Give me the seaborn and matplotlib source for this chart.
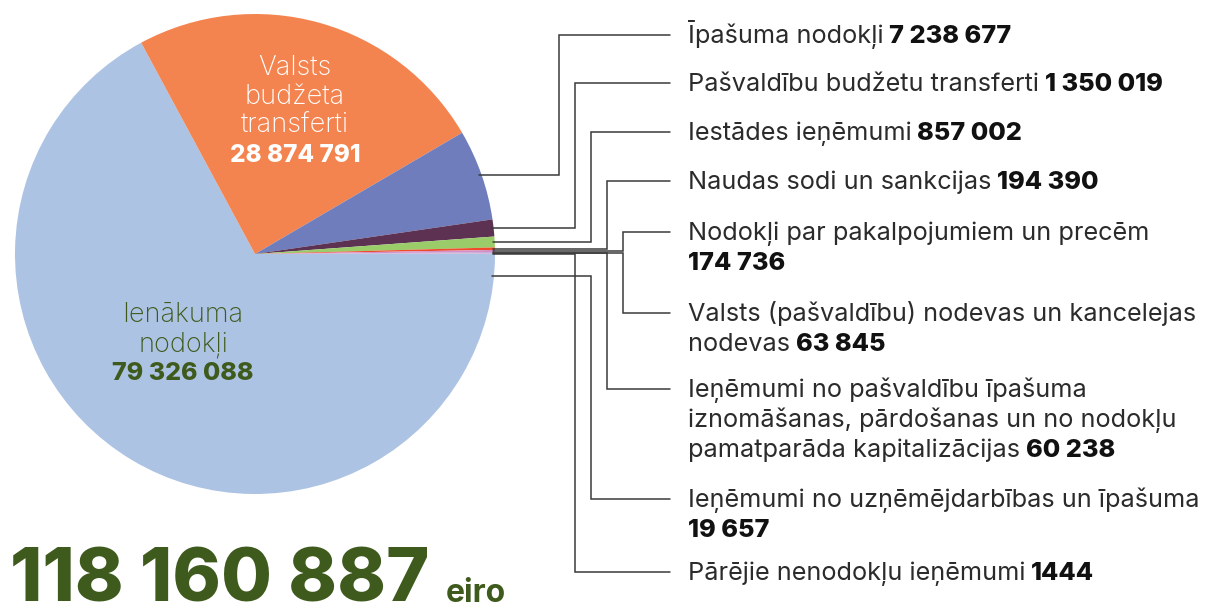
import matplotlib
matplotlib.use("Agg")
import matplotlib.pyplot as plt
import seaborn as sns
import numpy as np

# --- data: slices clockwise from 3 o'clock ---
categories = [
    "Ienākuma nodokļi",
    "Valsts budžeta transferti",
    "Īpašuma nodokļi",
    "Pašvaldību budžetu transferti",
    "Iestādes ieņēmumi",
    "Naudas sodi un sankcijas",
    "Nodokļi par pakalpojumiem un precēm",
    "Valsts (pašvaldību) nodevas un kancelejas nodevas",
    "Ieņēmumi no pašvaldību īpašuma iznomāšanas, pārdošanas un no nodokļu pamatparāda kapitalizācijas",
    "Ieņēmumi no uzņēmējdarbības un īpašuma",
    "Pārējie nenodokļu ieņēmumi",
]
values = [79326088, 28874791, 7238677, 1350019, 857002, 194390,
          174736, 63845, 60238, 19657, 1444]
slice_colors = ["#adc3e3", "#f4844f", "#6f7dbc", "#5c3152", "#9acd6a",
                "#ef4b2a", "#d48fc6", "#b9a0d4", "#c7b3dc", "#e0a0c8", "#f2c0d8"]

# callout text lines for slices 2..10: (regular part, value goes on this line?)
callout_lines = [
    [("Īpašuma nodokļi", True)],
    [("Pašvaldību budžetu transferti", True)],
    [("Iestādes ieņēmumi", True)],
    [("Naudas sodi un sankcijas", True)],
    [("Nodokļi par pakalpojumiem un precēm", False), ("", True)],
    [("Valsts (pašvaldību) nodevas un kancelejas", False), ("nodevas", True)],
    [("Ieņēmumi no pašvaldību īpašuma", False),
     ("iznomāšanas, pārdošanas un no nodokļu", False),
     ("pamatparāda kapitalizācijas", True)],
    [("Ieņēmumi no uzņēmējdarbības un īpašuma", False), ("", True)],
    [("Pārējie nenodokļu ieņēmumi", True)],
]

# --- layout (pixels, y downwards) ---
W, H = 1208, 606
cx, cy, rad = 255, 254, 240
label_y = [35, 83, 132, 181, 232, 313, 389, 499, 572]
elbow_x = [559, 575, 591, 607, 623, 623, 607, 591, 575]
anchor_override = {7: 276}
tick_end_x, text_x = 670, 688
line_gap = 30
lab_size = 18.2

FONT = "Inter"
TXT = "#2b2b2b"
GREEN = "#3f5a1d"


def fmt(v):
    return f"{v:,}".replace(",", " ") if v >= 10000 else str(v)


sns.set_theme(style="white")
plt.rcParams["font.family"] = [FONT, "DejaVu Sans"]

fig = plt.figure(figsize=(W / 100, H / 100), dpi=100)
ax = fig.add_axes([0, 0, 1, 1])

palette = sns.color_palette(slice_colors)
# y axis is inverted below, so counterclock=True reads clockwise on screen
wedges, _ = ax.pie(values, colors=palette, startangle=0, counterclock=True,
                   center=(cx, cy), radius=rad,
                   wedgeprops=dict(linewidth=0))
ax.set_xlim(0, W)
ax.set_ylim(H, 0)
ax.set_aspect("equal")
ax.axis("off")

# leader lines + callout labels
for i, lines in enumerate(callout_lines):
    w = wedges[i + 2]
    mid = np.deg2rad((w.theta1 + w.theta2) / 2)
    ay = cy + rad * np.sin(mid)
    ay = anchor_override.get(i, ay)
    ax0 = cx + np.sqrt(max(rad ** 2 - (ay - cy) ** 2, 0)) - 2
    ex, ly = elbow_x[i], label_y[i]
    ax.plot([ax0, ex, ex, tick_end_x], [ay, ay, ly, ly],
            color="#3a3a3a", lw=1.1, solid_joinstyle="miter", zorder=3)

    value = fmt(values[i + 2])
    for k, (reg, has_val) in enumerate(lines):
        base = ly + 8 + k * line_gap
        t = None
        if reg:
            t = ax.text(text_x, base, reg, fontsize=lab_size, color=TXT,
                        va="baseline", ha="left", fontweight="normal")
        if has_val:
            if t is None:
                ax.text(text_x, base, value, fontsize=lab_size, color="#111111",
                        va="baseline", ha="left", fontweight="heavy")
            else:
                ax.annotate(value, xy=(1, base), xycoords=(t, "data"),
                            xytext=(4, 0), textcoords="offset points",
                            fontsize=lab_size, color="#111111",
                            va="baseline", ha="left", fontweight="heavy")

# labels inside the pie
ax.text(295, 97, "Valsts\nbudžeta\ntransferti", fontsize=19.5, color="white",
        ha="center", va="center", linespacing=1.16, fontweight="light")
ax.text(295, 156, fmt(values[1]), fontsize=17.5, color="white",
        ha="center", va="center", fontweight="heavy")
ax.text(183, 330, "Ienākuma\nnodokļi", fontsize=19.5, color=GREEN,
        ha="center", va="center", linespacing=1.16, fontweight="light")
ax.text(183, 373, fmt(values[0]), fontsize=18, color=GREEN,
        ha="center", va="center", fontweight="heavy")

# total
total = sum(values)
tt = ax.text(10, 602, fmt(total), fontsize=53, color=GREEN,
             va="baseline", ha="left", fontweight="heavy")
ax.annotate("eiro", xy=(1, 602), xycoords=(tt, "data"), xytext=(12, 0),
            textcoords="offset points", fontsize=23, color=GREEN,
            va="baseline", ha="left", fontweight="bold")

fig.savefig("out.png", dpi=100)
